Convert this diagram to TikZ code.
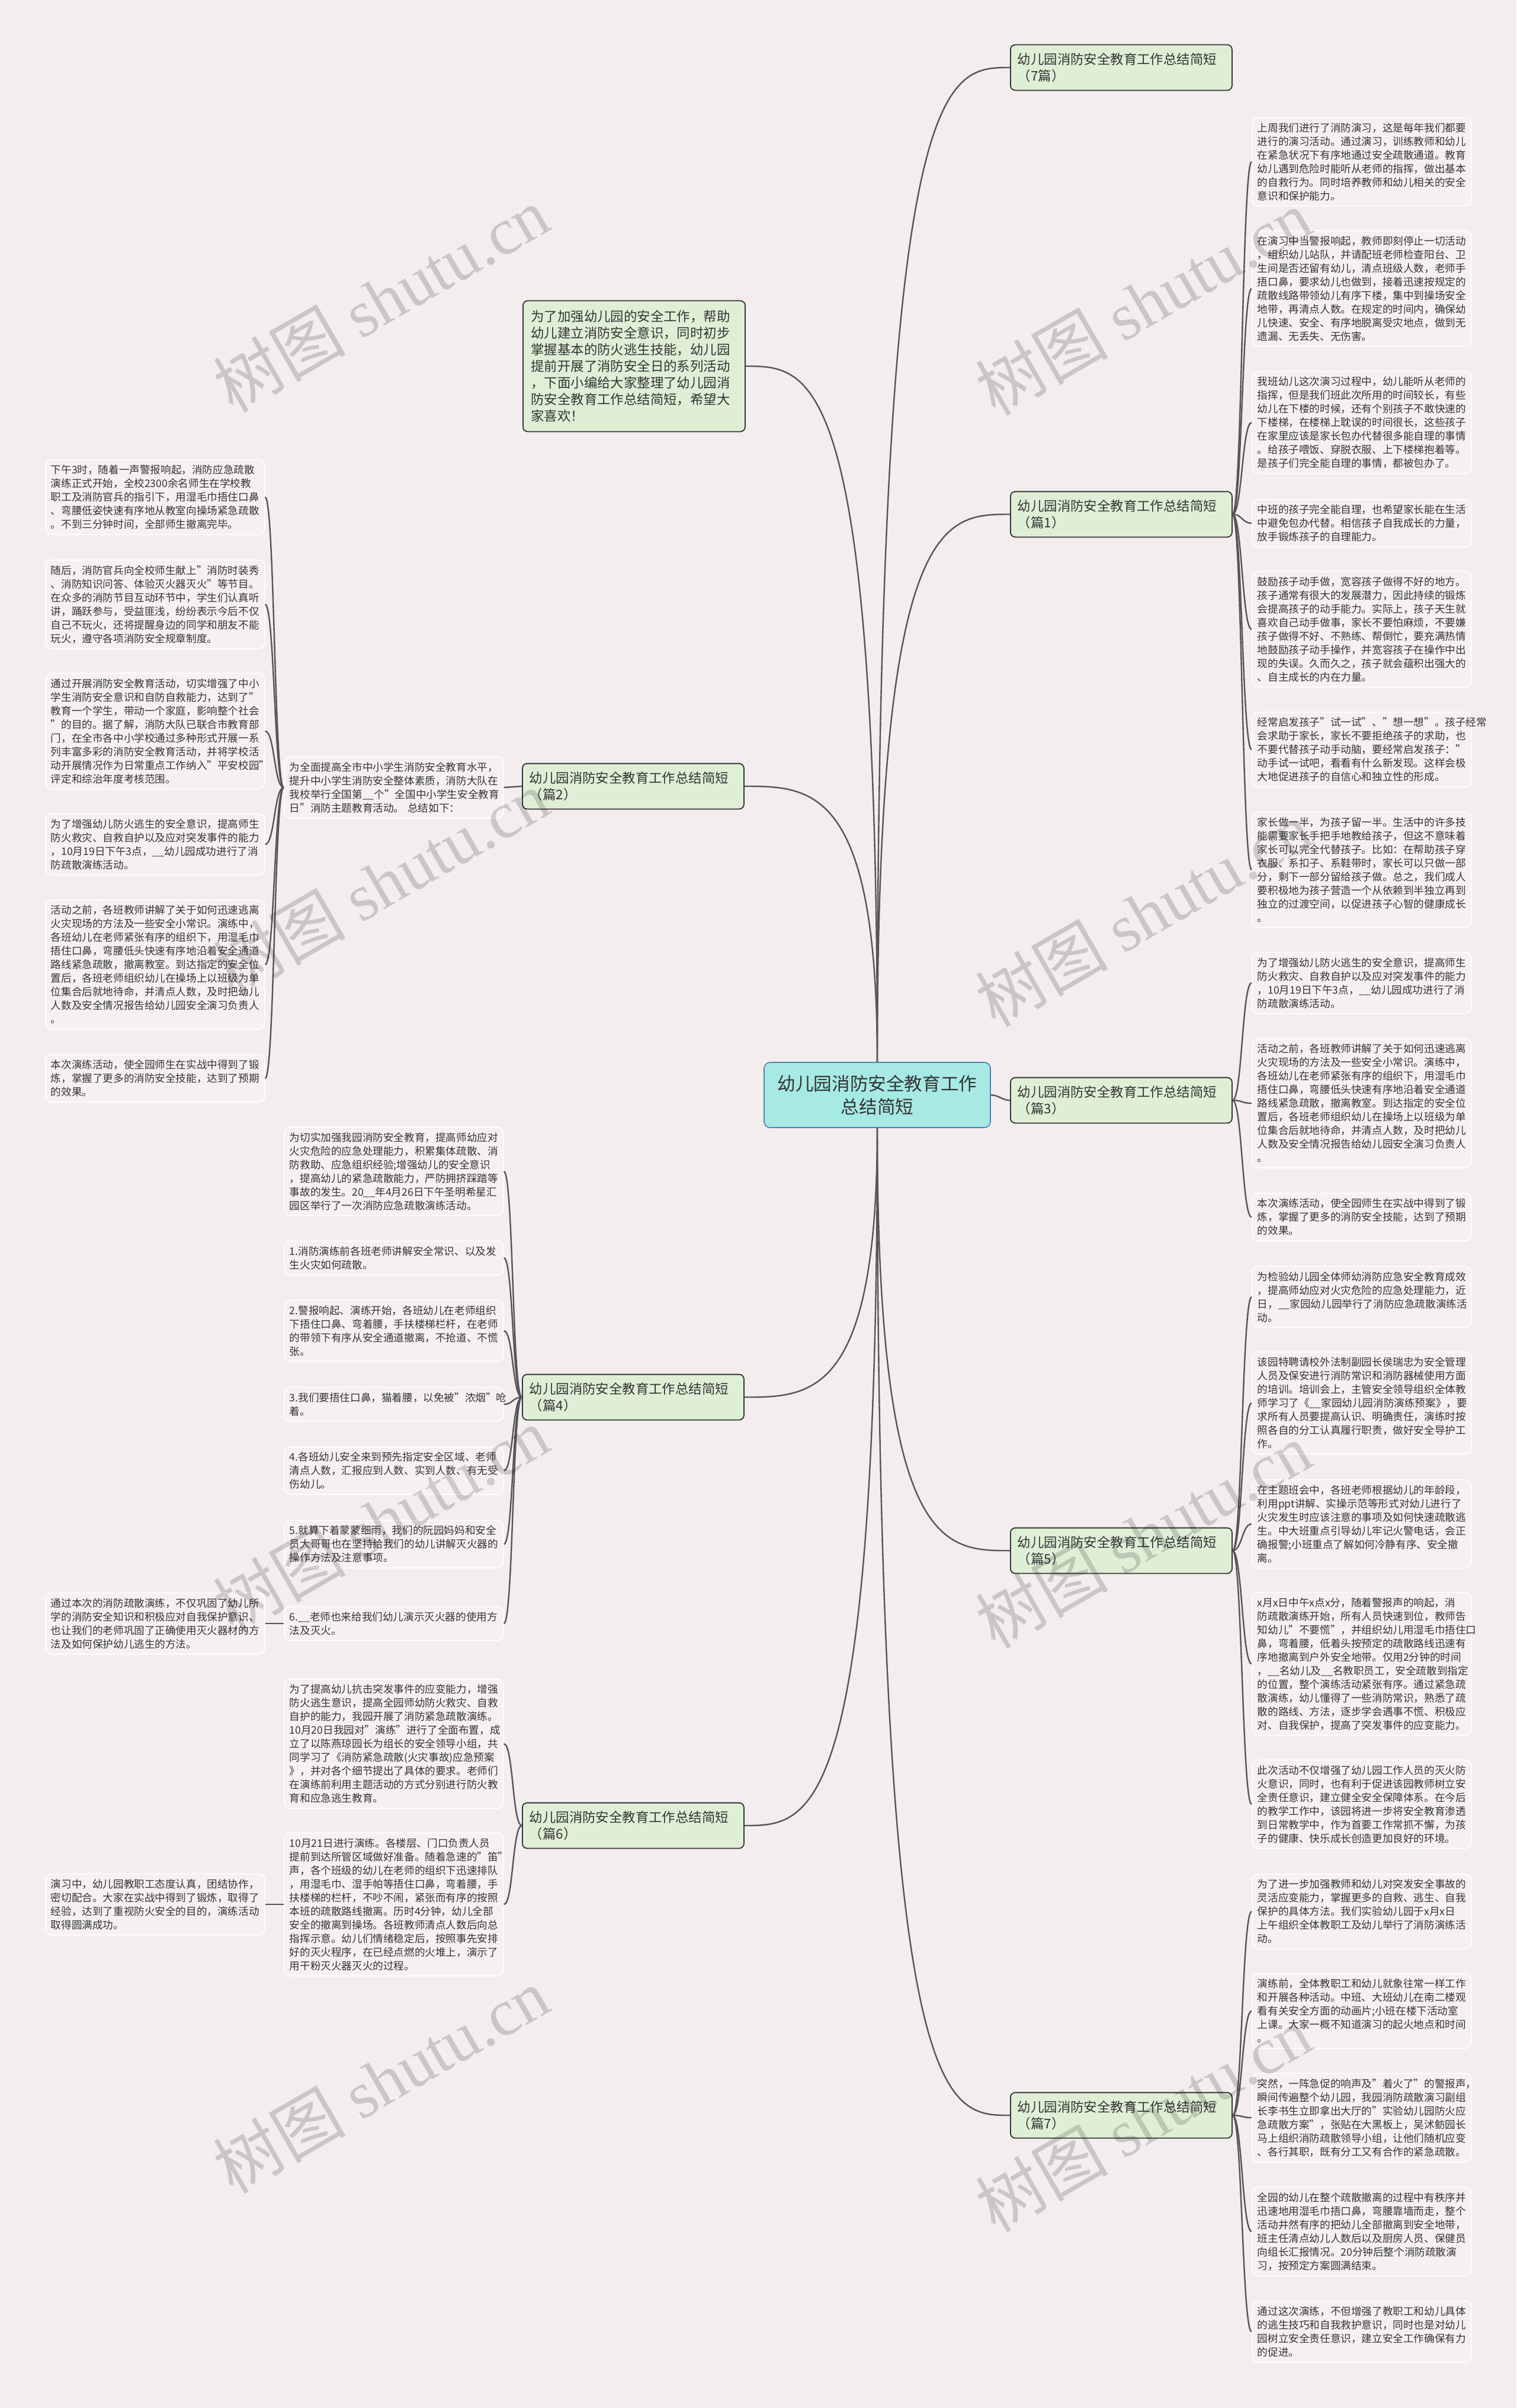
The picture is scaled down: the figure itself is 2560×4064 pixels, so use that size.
\documentclass[tikz,border=0pt]{standalone}
\usepackage{fontspec}
\setmainfont{Noto Sans CJK SC}
\newfontfamily\wmfont{Liberation Serif}
\usepackage{xcolor}
\usetikzlibrary{calc}
\definecolor{paper}{HTML}{F3EDED}
\definecolor{leaffill}{HTML}{F6F1F1}
\definecolor{leafline}{HTML}{FFFFFF}
\definecolor{greenfill}{HTML}{DFEFD6}
\definecolor{topicfill}{HTML}{A6EAE3}
\definecolor{topicline}{HTML}{4F7FB8}
\definecolor{ink}{HTML}{333333}
\definecolor{wirecol}{HTML}{555555}

\begin{document}
\begin{tikzpicture}[
    x=0.5pt, y=-0.5pt,
    leafbox/.style={draw=leafline, line width=0.8pt, fill=leaffill, rounded corners=5pt,
                    text width=176pt, inner xsep=4.5pt, inner ysep=4.5pt, align=left,
                    anchor=west, text=ink, font=\fontsize{8.8}{11.5}\selectfont},
    branchbox/.style={draw=ink, line width=0.9pt, fill=greenfill, rounded corners=4pt,
                      text width=175pt, inner xsep=6pt, inner ysep=7pt, align=left,
                      anchor=west, text=ink, font=\fontsize{11.2}{13.8}\selectfont},
    introbox/.style={draw=ink, line width=0.9pt, fill=greenfill, rounded corners=4pt,
                     text width=174pt, inner xsep=6.75pt, inner ysep=8pt, align=left,
                     anchor=west, text=ink, font=\fontsize{11.2}{14}\selectfont},
    topic/.style={draw=topicline, line width=0.8pt, fill=topicfill, rounded corners=5pt,
                  minimum width=191pt, minimum height=55pt, align=center,
                  text=ink, font=\fontsize{15.3}{19.5}\selectfont},
    wire/.style={draw=wirecol, line width=1.2pt},
    wmark/.style={rotate=30, text=black, text opacity=0.16, font=\fontsize{56}{60}\selectfont},
]
    % canvas
    \useasboundingbox (0,0) rectangle (2560,4064);
    \fill[paper] (0,0) rectangle (2560,4064);

    % centre
    \node[topic] (topic) at (1481,1848) {幼儿园消防安全教育工作\\总结简短};

    % branches, right side
    \node[branchbox] (head) at (1705,114) {幼儿园消防安全教育工作总结简短\\（7篇）};
    \node[branchbox] (sum1) at (1705,868) {幼儿园消防安全教育工作总结简短\\（篇1）};
    \node[branchbox] (sum3) at (1705,1857) {幼儿园消防安全教育工作总结简短\\（篇3）};
    \node[branchbox] (sum5) at (1705,2617) {幼儿园消防安全教育工作总结简短\\（篇5）};
    \node[branchbox] (sum7) at (1705,3570) {幼儿园消防安全教育工作总结简短\\（篇7）};

    % branches, left side
    \node[introbox] (intro) at (882,618) {为了加强幼儿园的安全工作，帮助\\幼儿建立消防安全意识，同时初步\\掌握基本的防火逃生技能，幼儿园\\提前开展了消防安全日的系列活动\\，下面小编给大家整理了幼儿园消\\防安全教育工作总结简短，希望大\\家喜欢！};
    \node[branchbox] (sum2) at (881,1327) {幼儿园消防安全教育工作总结简短\\（篇2）};
    \node[branchbox] (sum4) at (881,2358) {幼儿园消防安全教育工作总结简短\\（篇4）};
    \node[branchbox] (sum6) at (881,3081) {幼儿园消防安全教育工作总结简短\\（篇6）};

    % leaves of 篇1
    \node[leafbox] (r1a) at (2113,273) {上周我们进行了消防演习，这是每年我们都要\\进行的演习活动。通过演习，训练教师和幼儿\\在紧急状况下有序地通过安全疏散通道。教育\\幼儿遇到危险时能听从老师的指挥，做出基本\\的自救行为。同时培养教师和幼儿相关的安全\\意识和保护能力。};
    \node[leafbox] (r1b) at (2113,487) {在演习中当警报响起，教师即刻停止一切活动\\，组织幼儿站队，并请配班老师检查阳台、卫\\生间是否还留有幼儿，清点班级人数，老师手\\捂口鼻，要求幼儿也做到，接着迅速按规定的\\疏散线路带领幼儿有序下楼，集中到操场安全\\地带，再清点人数。在规定的时间内，确保幼\\儿快速、安全、有序地脱离受灾地点，做到无\\遗漏、无丢失、无伤害。};
    \node[leafbox] (r1c) at (2113,713) {我班幼儿这次演习过程中，幼儿能听从老师的\\指挥，但是我们班此次所用的时间较长，有些\\幼儿在下楼的时候，还有个别孩子不敢快速的\\下楼梯，在楼梯上耽误的时间很长，这些孩子\\在家里应该是家长包办代替很多能自理的事情\\。给孩子喂饭、穿脱衣服、上下楼梯抱着等。\\是孩子们完全能自理的事情，都被包办了。};
    \node[leafbox] (r1d) at (2113,883) {中班的孩子完全能自理，也希望家长能在生活\\中避免包办代替。相信孩子自我成长的力量，\\放手锻炼孩子的自理能力。};
    \node[leafbox] (r1e) at (2113,1062) {鼓励孩子动手做，宽容孩子做得不好的地方。\\孩子通常有很大的发展潜力，因此持续的锻炼\\会提高孩子的动手能力。实际上，孩子天生就\\喜欢自己动手做事，家长不要怕麻烦，不要嫌\\孩子做得不好、不熟练、帮倒忙，要充满热情\\地鼓励孩子动手操作，并宽容孩子在操作中出\\现的失误。久而久之，孩子就会蕴积出强大的\\、自主成长的内在力量。};
    \node[leafbox] (r1f) at (2113,1265) {经常启发孩子"试一试"、"想一想"。孩子经常\\会求助于家长，家长不要拒绝孩子的求助，也\\不要代替孩子动手动脑，要经常启发孩子："\\动手试一试吧，看看有什么新发现。这样会极\\大地促进孩子的自信心和独立性的形成。};
    \node[leafbox] (r1g) at (2113,1468) {家长做一半，为孩子留一半。生活中的许多技\\能需要家长手把手地教给孩子，但这不意味着\\家长可以完全代替孩子。比如：在帮助孩子穿\\衣服、系扣子、系鞋带时，家长可以只做一部\\分，剩下一部分留给孩子做。总之，我们成人\\要积极地为孩子营造一个从依赖到半独立再到\\独立的过渡空间，以促进孩子心智的健康成长\\。};

    % leaves of 篇3
    \node[leafbox] (r3a) at (2113,1659) {为了增强幼儿防火逃生的安全意识，提高师生\\防火救灾、自救自护以及应对突发事件的能力\\，10月19日下午3点，\_\_幼儿园成功进行了消\\防疏散演练活动。};
    \node[leafbox] (r3b) at (2113,1862) {活动之前，各班教师讲解了关于如何迅速逃离\\火灾现场的方法及一些安全小常识。演练中，\\各班幼儿在老师紧张有序的组织下，用湿毛巾\\捂住口鼻，弯腰低头快速有序地沿着安全通道\\路线紧急疏散，撤离教室。到达指定的安全位\\置后，各班老师组织幼儿在操场上以班级为单\\位集合后就地待命，并清点人数，及时把幼儿\\人数及安全情况报告给幼儿园安全演习负责人\\。};
    \node[leafbox] (r3c) at (2113,2054) {本次演练活动，使全园师生在实战中得到了锻\\炼，掌握了更多的消防安全技能，达到了预期\\的效果。};

    % leaves of 篇5
    \node[leafbox] (r5a) at (2113,2189) {为检验幼儿园全体师幼消防应急安全教育成效\\，提高师幼应对火灾危险的应急处理能力，近\\日，\_\_家园幼儿园举行了消防应急疏散演练活\\动。};
    \node[leafbox] (r5b) at (2113,2368) {该园特聘请校外法制副园长侯瑞忠为安全管理\\人员及保安进行消防常识和消防器械使用方面\\的培训。培训会上，主管安全领导组织全体教\\师学习了《\_\_家园幼儿园消防演练预案》，要\\求所有人员要提高认识、明确责任，演练时按\\照各自的分工认真履行职责，做好安全导护工\\作。};
    \node[leafbox] (r5c) at (2113,2572) {在主题班会中，各班老师根据幼儿的年龄段，\\利用ppt讲解、实操示范等形式对幼儿进行了\\火灾发生时应该注意的事项及如何快速疏散逃\\生。中大班重点引导幼儿牢记火警电话，会正\\确报警;小班重点了解如何冷静有序、安全撤\\离。};
    \node[leafbox] (r5d) at (2113,2808) {x月x日中午x点x分，随着警报声的响起，消\\防疏散演练开始，所有人员快速到位，教师告\\知幼儿"不要慌"，并组织幼儿用湿毛巾捂住口\\鼻，弯着腰，低着头按预定的疏散路线迅速有\\序地撤离到户外安全地带。仅用2分钟的时间\\，\_\_名幼儿及\_\_名教职员工，安全疏散到指定\\的位置，整个演练活动紧张有序。通过紧急疏\\散演练，幼儿懂得了一些消防常识，熟悉了疏\\散的路线、方法，逐步学会遇事不慌、积极应\\对、自我保护，提高了突发事件的应变能力。};
    \node[leafbox] (r5e) at (2113,3045) {此次活动不仅增强了幼儿园工作人员的灭火防\\火意识，同时，也有利于促进该园教师树立安\\全责任意识，建立健全安全保障体系。在今后\\的教学工作中，该园将进一步将安全教育渗透\\到日常教学中，作为首要工作常抓不懈，为孩\\子的健康、快乐成长创造更加良好的环境。};

    % leaves of 篇7
    \node[leafbox] (r7a) at (2113,3226) {为了进一步加强教师和幼儿对突发安全事故的\\灵活应变能力，掌握更多的自救、逃生、自我\\保护的具体方法。我们实验幼儿园于x月x日\\上午组织全体教职工及幼儿举行了消防演练活\\动。};
    \node[leafbox] (r7b) at (2113,3394) {演练前，全体教职工和幼儿就象往常一样工作\\和开展各种活动。中班、大班幼儿在南二楼观\\看有关安全方面的动画片;小班在楼下活动室\\上课。大家一概不知道演习的起火地点和时间\\。};
    \node[leafbox] (r7c) at (2113,3574) {突然，一阵急促的响声及"着火了"的警报声，\\瞬间传遍整个幼儿园，我园消防疏散演习副组\\长李书生立即拿出大厅的"实验幼儿园防火应\\急疏散方案"，张贴在大黑板上，吴沭鲂园长\\马上组织消防疏散领导小组，让他们随机应变\\、各行其职，既有分工又有合作的紧急疏散。};
    \node[leafbox] (r7d) at (2113,3766) {全园的幼儿在整个疏散撤离的过程中有秩序并\\迅速地用湿毛巾捂口鼻，弯腰靠墙而走，整个\\活动井然有序的把幼儿全部撤离到安全地带，\\班主任清点幼儿人数后以及厨房人员、保健员\\向组长汇报情况。20分钟后整个消防疏散演\\习，按预定方案圆满结束。};
    \node[leafbox] (r7e) at (2113,3935) {通过这次演练，不但增强了教职工和幼儿具体\\的逃生技巧和自我救护意识，同时也是对幼儿\\园树立安全责任意识，建立安全工作确保有力\\的促进。};

    % 篇2: summary box and its leaves
    \node[leafbox] (s2) at (479,1329) {为全面提高全市中小学生消防安全教育水平，\\提升中小学生消防安全整体素质，消防大队在\\我校举行全国第\_\_个"全国中小学生安全教育\\日"消防主题教育活动。 总结如下：};
    \node[leafbox] (l2a) at (76,839) {下午3时，随着一声警报响起，消防应急疏散\\演练正式开始，全校2300余名师生在学校教\\职工及消防官兵的指引下，用湿毛巾捂住口鼻\\、弯腰低姿快速有序地从教室向操场紧急疏散\\。不到三分钟时间，全部师生撤离完毕。};
    \node[leafbox] (l2b) at (76,1020) {随后，消防官兵向全校师生献上"消防时装秀\\、消防知识问答、体验灭火器灭火"等节目。\\在众多的消防节目互动环节中，学生们认真听\\讲，踊跃参与，受益匪浅，纷纷表示今后不仅\\自己不玩火，还将提醒身边的同学和朋友不能\\玩火，遵守各项消防安全规章制度。};
    \node[leafbox] (l2c) at (76,1234) {通过开展消防安全教育活动，切实增强了中小\\学生消防安全意识和自防自救能力，达到了"\\教育一个学生，带动一个家庭，影响整个社会\\"的目的。据了解，消防大队已联合市教育部\\门，在全市各中小学校通过多种形式开展一系\\列丰富多彩的消防安全教育活动，并将学校活\\动开展情况作为日常重点工作纳入"平安校园"\\评定和综治年度考核范围。};
    \node[leafbox] (l2d) at (76,1425) {为了增强幼儿防火逃生的安全意识，提高师生\\防火救灾、自救自护以及应对突发事件的能力\\，10月19日下午3点，\_\_幼儿园成功进行了消\\防疏散演练活动。};
    \node[leafbox] (l2e) at (76,1628) {活动之前，各班教师讲解了关于如何迅速逃离\\火灾现场的方法及一些安全小常识。演练中，\\各班幼儿在老师紧张有序的组织下，用湿毛巾\\捂住口鼻，弯腰低头快速有序地沿着安全通道\\路线紧急疏散，撤离教室。到达指定的安全位\\置后，各班老师组织幼儿在操场上以班级为单\\位集合后就地待命，并清点人数，及时把幼儿\\人数及安全情况报告给幼儿园安全演习负责人\\。};
    \node[leafbox] (l2f) at (76,1820) {本次演练活动，使全园师生在实战中得到了锻\\炼，掌握了更多的消防安全技能，达到了预期\\的效果。};

    % 篇4 leaves
    \node[leafbox] (m4a) at (479,1977) {为切实加强我园消防安全教育，提高师幼应对\\火灾危险的应急处理能力，积累集体疏散、消\\防救助、应急组织经验;增强幼儿的安全意识\\，提高幼儿的紧急疏散能力，严防拥挤踩踏等\\事故的发生。20\_\_年4月26日下午圣明希星汇\\园区举行了一次消防应急疏散演练活动。};
    \node[leafbox] (m4b) at (479,2123) {1.消防演练前各班老师讲解安全常识、以及发\\生火灾如何疏散。};
    \node[leafbox] (m4c) at (479,2246) {2.警报响起、演练开始，各班幼儿在老师组织\\下捂住口鼻、弯着腰，手扶楼梯栏杆，在老师\\的带领下有序从安全通道撤离，不抢道、不慌\\张。};
    \node[leafbox] (m4d) at (479,2370) {3.我们要捂住口鼻，猫着腰，以免被"浓烟"呛\\着。};
    \node[leafbox] (m4e) at (479,2482) {4.各班幼儿安全来到预先指定安全区域、老师\\清点人数，汇报应到人数、实到人数、有无受\\伤幼儿。};
    \node[leafbox] (m4f) at (479,2606) {5.就算下着蒙蒙细雨，我们的阮园妈妈和安全\\员大哥哥也在坚持给我们的幼儿讲解灭火器的\\操作方法及注意事项。};
    \node[leafbox] (m4g) at (479,2740) {6.\_\_老师也来给我们幼儿演示灭火器的使用方\\法及灭火。};
    \node[leafbox] (l4) at (76,2740) {通过本次的消防疏散演练，不仅巩固了幼儿所\\学的消防安全知识和积极应对自我保护意识、\\也让我们的老师巩固了正确使用灭火器材的方\\法及如何保护幼儿逃生的方法。};

    % 篇6 leaves
    \node[leafbox] (m6a) at (479,2943) {为了提高幼儿抗击突发事件的应变能力，增强\\防火逃生意识，提高全园师幼防火救灾、自救\\自护的能力，我园开展了消防紧急疏散演练。\\10月20日我园对"演练"进行了全面布置，成\\立了以陈燕琼园长为组长的安全领导小组，共\\同学习了《消防紧急疏散(火灾事故)应急预案\\》，并对各个细节提出了具体的要求。老师们\\在演练前利用主题活动的方式分别进行防火教\\育和应急逃生教育。};
    \node[leafbox] (m6b) at (479,3214) {10月21日进行演练。各楼层、门口负责人员\\提前到达所管区域做好准备。随着急速的"笛"\\声，各个班级的幼儿在老师的组织下迅速排队\\，用湿毛巾、湿手帕等捂住口鼻，弯着腰，手\\扶楼梯的栏杆，不吵不闹，紧张而有序的按照\\本班的疏散路线撤离。历时4分钟，幼儿全部\\安全的撤离到操场。各班教师清点人数后向总\\指挥示意。幼儿们情绪稳定后，按照事先安排\\好的灭火程序，在已经点燃的火堆上，演示了\\用干粉灭火器灭火的过程。};
    \node[leafbox] (l6) at (76,3214) {演习中，幼儿园教职工态度认真，团结协作，\\密切配合。大家在实战中得到了锻炼，取得了\\经验，达到了重视防火安全的目的，演练活动\\取得圆满成功。};

    % centre to branches
    \draw[wire] (topic.north) .. controls (topic.north |- head.west) and ($(topic.north |- head.west)!0.5!(head.west)$) .. (head.west);
    \draw[wire] (topic.north) .. controls (topic.north |- sum1.west) and ($(topic.north |- sum1.west)!0.5!(sum1.west)$) .. (sum1.west);
    \draw[wire] (topic.north) .. controls (topic.north |- intro.east) and ($(topic.north |- intro.east)!0.5!(intro.east)$) .. (intro.east);
    \draw[wire] (topic.north) .. controls (topic.north |- sum2.east) and ($(topic.north |- sum2.east)!0.5!(sum2.east)$) .. (sum2.east);
    \draw[wire] (topic.east) .. controls +(13,0) and +(-13,0) .. (sum3.west);
    \draw[wire] (topic.south) .. controls (topic.south |- sum5.west) and ($(topic.south |- sum5.west)!0.5!(sum5.west)$) .. (sum5.west);
    \draw[wire] (topic.south) .. controls (topic.south |- sum7.west) and ($(topic.south |- sum7.west)!0.5!(sum7.west)$) .. (sum7.west);
    \draw[wire] (topic.south) .. controls (topic.south |- sum4.east) and ($(topic.south |- sum4.east)!0.5!(sum4.east)$) .. (sum4.east);
    \draw[wire] (topic.south) .. controls (topic.south |- sum6.east) and ($(topic.south |- sum6.east)!0.5!(sum6.east)$) .. (sum6.east);

    % 篇1 links
    \draw[wire] (sum1.east) .. controls +(16,0) and +(-16,0) .. (r1a.west);
    \draw[wire] (sum1.east) .. controls +(16,0) and +(-16,0) .. (r1b.west);
    \draw[wire] (sum1.east) .. controls +(16,0) and +(-16,0) .. (r1c.west);
    \draw[wire] (sum1.east) .. controls +(16,0) and +(-16,0) .. (r1d.west);
    \draw[wire] (sum1.east) .. controls +(16,0) and +(-16,0) .. (r1e.west);
    \draw[wire] (sum1.east) .. controls +(16,0) and +(-16,0) .. (r1f.west);
    \draw[wire] (sum1.east) .. controls +(16,0) and +(-16,0) .. (r1g.west);

    % 篇3 links
    \draw[wire] (sum3.east) .. controls +(16,0) and +(-16,0) .. (r3a.west);
    \draw[wire] (sum3.east) .. controls +(16,0) and +(-16,0) .. (r3b.west);
    \draw[wire] (sum3.east) .. controls +(16,0) and +(-16,0) .. (r3c.west);

    % 篇5 links
    \draw[wire] (sum5.east) .. controls +(16,0) and +(-16,0) .. (r5a.west);
    \draw[wire] (sum5.east) .. controls +(16,0) and +(-16,0) .. (r5b.west);
    \draw[wire] (sum5.east) .. controls +(16,0) and +(-16,0) .. (r5c.west);
    \draw[wire] (sum5.east) .. controls +(16,0) and +(-16,0) .. (r5d.west);
    \draw[wire] (sum5.east) .. controls +(16,0) and +(-16,0) .. (r5e.west);

    % 篇7 links
    \draw[wire] (sum7.east) .. controls +(16,0) and +(-16,0) .. (r7a.west);
    \draw[wire] (sum7.east) .. controls +(16,0) and +(-16,0) .. (r7b.west);
    \draw[wire] (sum7.east) .. controls +(16,0) and +(-16,0) .. (r7c.west);
    \draw[wire] (sum7.east) .. controls +(16,0) and +(-16,0) .. (r7d.west);
    \draw[wire] (sum7.east) .. controls +(16,0) and +(-16,0) .. (r7e.west);

    % 篇2 links
    \draw[wire] (sum2.west) -- (s2.east);
    \draw[wire] (s2.west) .. controls +(-16,0) and +(16,0) .. (l2a.east);
    \draw[wire] (s2.west) .. controls +(-16,0) and +(16,0) .. (l2b.east);
    \draw[wire] (s2.west) .. controls +(-16,0) and +(16,0) .. (l2c.east);
    \draw[wire] (s2.west) .. controls +(-16,0) and +(16,0) .. (l2d.east);
    \draw[wire] (s2.west) .. controls +(-16,0) and +(16,0) .. (l2e.east);
    \draw[wire] (s2.west) .. controls +(-16,0) and +(16,0) .. (l2f.east);

    % 篇4 links
    \draw[wire] (sum4.west) .. controls +(-16,0) and +(16,0) .. (m4a.east);
    \draw[wire] (sum4.west) .. controls +(-16,0) and +(16,0) .. (m4b.east);
    \draw[wire] (sum4.west) .. controls +(-16,0) and +(16,0) .. (m4c.east);
    \draw[wire] (sum4.west) .. controls +(-16,0) and +(16,0) .. (m4d.east);
    \draw[wire] (sum4.west) .. controls +(-16,0) and +(16,0) .. (m4e.east);
    \draw[wire] (sum4.west) .. controls +(-16,0) and +(16,0) .. (m4f.east);
    \draw[wire] (sum4.west) .. controls +(-16,0) and +(16,0) .. (m4g.east);
    \draw[wire] (m4g.west) -- (l4.east);

    % 篇6 links
    \draw[wire] (sum6.west) .. controls +(-16,0) and +(16,0) .. (m6a.east);
    \draw[wire] (sum6.west) .. controls +(-16,0) and +(16,0) .. (m6b.east);
    \draw[wire] (m6b.west) -- (l6.east);

    % watermarks
    \node[wmark] (wm1) at (643,505) {树图 \wmfont shutu.cn};
    \node[wmark] (wm2) at (1930,510) {树图 \wmfont shutu.cn};
    \node[wmark] (wm3) at (643,1490) {树图 \wmfont shutu.cn};
    \node[wmark] (wm4) at (1930,1542) {树图 \wmfont shutu.cn};
    \node[wmark] (wm5) at (643,2565) {树图 \wmfont shutu.cn};
    \node[wmark] (wm6) at (1930,2591) {树图 \wmfont shutu.cn};
    \node[wmark] (wm7) at (643,3511) {树图 \wmfont shutu.cn};
    \node[wmark] (wm8) at (1930,3576) {树图 \wmfont shutu.cn};
\end{tikzpicture}
\end{document}
